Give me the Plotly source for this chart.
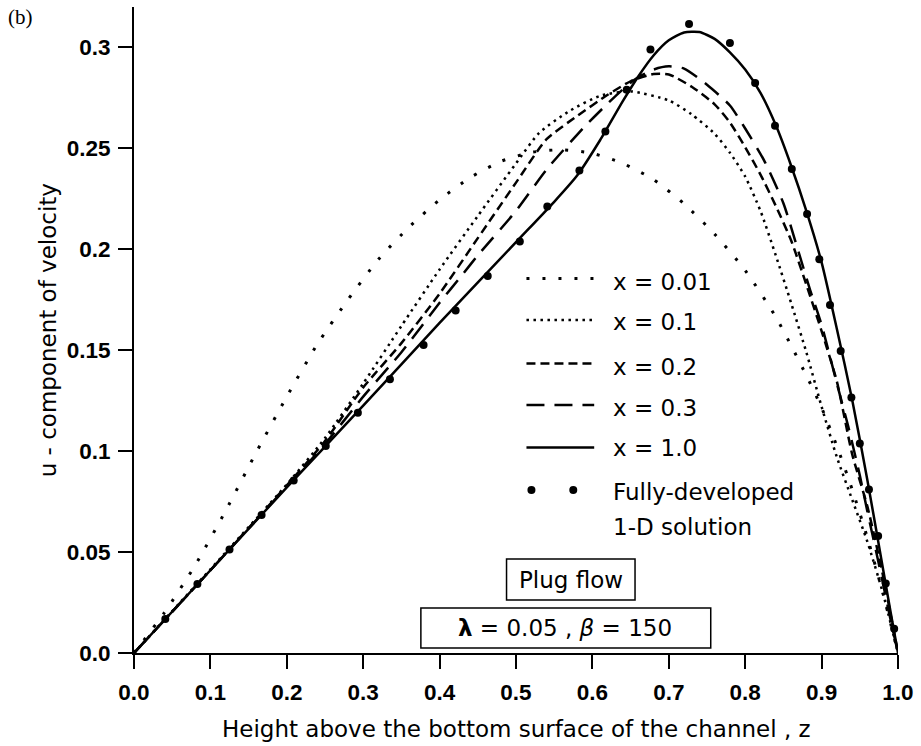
import plotly.graph_objects as go

# ---------------- data ----------------
x_tick_vals = [0.0, 0.1, 0.2, 0.3, 0.4, 0.5, 0.6, 0.7, 0.8, 0.9, 1.0]
x_tick_text = ["0.0", "0.1", "0.2", "0.3", "0.4", "0.5", "0.6", "0.7", "0.8", "0.9", "1.0"]
y_tick_vals = [0.0, 0.05, 0.1, 0.15, 0.2, 0.25, 0.3]
y_tick_text = ["0.0", "0.05", "0.1", "0.15", "0.2", "0.25", "0.3"]

series_names = ["x = 0.01", "x = 0.1", "x = 0.2", "x = 0.3", "x = 1.0"]

z_x001 = [0, 0.04, 0.08, 0.12, 0.16, 0.2, 0.24, 0.28, 0.32, 0.36, 0.40, 0.44, 0.48, 0.52,
          0.56, 0.60, 0.64, 0.68, 0.72, 0.76, 0.80, 0.84, 0.88, 0.90, 0.92, 0.94, 0.96, 0.98, 1.0]
u_x001 = [0, 0.0201, 0.0434, 0.0705, 0.0994, 0.127, 0.153, 0.175, 0.195, 0.211, 0.2245, 0.2355,
          0.2435, 0.248, 0.2493, 0.2475, 0.2425, 0.2345, 0.2225, 0.2075, 0.1895, 0.1665, 0.1375,
          0.1215, 0.1025, 0.081, 0.057, 0.030, 0]

z_x01 = [0, 0.1, 0.2, 0.25, 0.3, 0.35, 0.4, 0.45, 0.5, 0.53, 0.57, 0.61, 0.65, 0.70, 0.73, 0.76,
         0.78, 0.80, 0.82, 0.84, 0.86, 0.88, 0.90, 0.92, 0.94, 0.96, 0.98, 1.0]
u_x01 = [0, 0.0415, 0.0835, 0.1065, 0.1335, 0.162, 0.19, 0.2165, 0.2425, 0.2575, 0.2685, 0.2760,
         0.2782, 0.2737, 0.2668, 0.2572, 0.2478, 0.236, 0.219, 0.197, 0.1735, 0.149, 0.122,
         0.097, 0.076, 0.055, 0.030, 0]

z_x02 = [0, 0.1, 0.2, 0.25, 0.3, 0.35, 0.4, 0.45, 0.5, 0.54, 0.58, 0.62, 0.65, 0.68, 0.70, 0.73,
         0.76, 0.78, 0.80, 0.82, 0.84, 0.86, 0.88, 0.90, 0.92, 0.94, 0.96, 0.98, 1.0]
u_x02 = [0, 0.041, 0.083, 0.105, 0.1315, 0.1535, 0.178, 0.2055, 0.233, 0.2545, 0.266, 0.2765,
         0.2832, 0.2868, 0.2866, 0.2805, 0.2718, 0.2628, 0.2505, 0.237, 0.2215, 0.2045, 0.1825,
         0.1595, 0.1345, 0.0985, 0.0725, 0.039, 0]

z_x03 = [0, 0.1, 0.2, 0.25, 0.3, 0.35, 0.4, 0.43, 0.45, 0.5, 0.54, 0.59, 0.625, 0.655, 0.68,
         0.70, 0.72, 0.75, 0.78, 0.80, 0.825, 0.85, 0.87, 0.885, 0.90, 0.92, 0.935, 0.95, 0.96,
         0.975, 0.99, 1.0]
u_x03 = [0, 0.041, 0.0825, 0.1035, 0.127, 0.149, 0.1735, 0.1875, 0.197, 0.219, 0.2395, 0.2608,
         0.274, 0.284, 0.289, 0.2906, 0.2895, 0.2815, 0.2712, 0.2598, 0.2438, 0.2228, 0.1985,
         0.1798, 0.1625, 0.1335, 0.112, 0.088, 0.070, 0.044, 0.017, 0]

z_x10 = [0, 0.1, 0.2, 0.3, 0.4, 0.5, 0.55, 0.58, 0.61, 0.64, 0.66, 0.68, 0.70, 0.72, 0.74, 0.76,
         0.78, 0.80, 0.82, 0.84, 0.86, 0.88, 0.90, 0.92, 0.94, 0.96, 0.98, 0.99, 1.0]
u_x10 = [0, 0.041, 0.082, 0.1225, 0.1635, 0.2035, 0.2235, 0.2365, 0.254, 0.2735, 0.2856, 0.296,
         0.3035, 0.3074, 0.3076, 0.3042, 0.2975, 0.289, 0.2775, 0.2615, 0.2415, 0.219, 0.1935,
         0.1605, 0.1255, 0.0855, 0.0425, 0.021, 0]

fd_name = "Fully-developed"
fd_z = [0.041, 0.083, 0.125, 0.167, 0.209, 0.251, 0.293, 0.335, 0.379, 0.421, 0.463, 0.505,
        0.541, 0.583, 0.617, 0.645, 0.676, 0.7265, 0.780, 0.813, 0.839, 0.861, 0.881, 0.897,
        0.911, 0.925, 0.939, 0.950, 0.962, 0.974, 0.984, 0.995]
fd_u = [0.0168, 0.0342, 0.0513, 0.0683, 0.0855, 0.1025, 0.119, 0.1356, 0.1526, 0.1696, 0.1868,
        0.2038, 0.2212, 0.239, 0.2583, 0.279, 0.2989, 0.3116, 0.3022, 0.2823, 0.2612, 0.2397,
        0.2175, 0.1951, 0.1724, 0.1496, 0.1266, 0.1038, 0.081, 0.0579, 0.0344, 0.012]

# ---------------- layout helpers ----------------
W, H = 921, 746
ML, MR, MT, MB = 134, 20, 7, 93


def px(X):
    return (X - ML) / (W - ML - MR)


def py(Y):
    return (H - MB - Y) / (H - MT - MB)


TXT = dict(family="DejaVu Sans", size=23, color="black")
TICKF = dict(family="Liberation Sans", size=22.5, color="black", weight="bold")

line_styles = [
    dict(color="black", width=3, dash="3px,13px"),
    dict(color="black", width=2.5, dash="2.5px,4.5px"),
    dict(color="black", width=2.5, dash="9px,5px"),
    dict(color="black", width=2.5, dash="18px,10px"),
    dict(color="black", width=2.5),
]
curves = [(z_x001, u_x001), (z_x01, u_x01), (z_x02, u_x02), (z_x03, u_x03), (z_x10, u_x10)]

fig = go.Figure()
for name, (zz, uu), ls in zip(series_names, curves, line_styles):
    fig.add_trace(go.Scatter(x=zz, y=uu, mode="lines", name=name, line=dict(shape="spline", smoothing=0.6, **ls),
                             cliponaxis=False, showlegend=False))
fig.add_trace(go.Scatter(x=fd_z, y=fd_u, mode="markers", name=fd_name,
                         marker=dict(color="black", size=8), showlegend=False, cliponaxis=False))

shapes = []
annotations = []

# manual legend
leg_line_Y = [278.5, 320, 363.5, 405, 447.5]
leg_text_Y = [281.7, 321.7, 366.7, 408, 448]
for ls, yl, yt, name in zip(line_styles, leg_line_Y, leg_text_Y, series_names):
    shapes.append(dict(type="line", xref="paper", yref="paper", x0=px(528), x1=px(596),
                       y0=py(yl), y1=py(yl), line=ls))
    annotations.append(dict(xref="paper", yref="paper", x=px(613), y=py(yt), text=name,
                            xanchor="left", yanchor="middle", showarrow=False, font=TXT))
for Xd in (533, 575):
    shapes.append(dict(type="circle", xref="paper", yref="paper", xsizemode="pixel", ysizemode="pixel",
                       xanchor=px(Xd), yanchor=py(490), x0=-4, x1=4, y0=-4, y1=4,
                       fillcolor="black", line=dict(width=0)))
annotations.append(dict(xref="paper", yref="paper", x=px(613), y=py(491.7), text="Fully-developed",
                        xanchor="left", yanchor="middle", showarrow=False, font=TXT))
annotations.append(dict(xref="paper", yref="paper", x=px(613), y=py(526.7), text="1-D solution",
                        xanchor="left", yanchor="middle", showarrow=False, font=TXT))

# boxes
shapes.append(dict(type="rect", xref="paper", yref="paper", x0=px(508), x1=px(637), y0=py(600), y1=py(559),
                   line=dict(color="black", width=1.5)))
annotations.append(dict(xref="paper", yref="paper", x=px(572.5), y=py(580), text="Plug flow",
                        xanchor="center", yanchor="middle", showarrow=False, font=TXT))
shapes.append(dict(type="rect", xref="paper", yref="paper", x0=px(422), x1=px(713), y0=py(648), y1=py(608),
                   line=dict(color="black", width=1.5)))
annotations.append(dict(xref="paper", yref="paper", x=px(567), y=py(628),
                        text="<b>λ</b> = 0.05 , <i>β</i> = 150",
                        xanchor="center", yanchor="middle", showarrow=False, font=TXT))

# axis titles and panel label
annotations.append(dict(xref="paper", yref="paper", x=px(517.5), y=py(729),
                        text="Height above the bottom surface of the channel , z",
                        xanchor="center", yanchor="middle", showarrow=False, font=TXT))
annotations.append(dict(xref="paper", yref="paper", x=px(48), y=py(330), text="u - component of velocity",
                        textangle=-90, xanchor="center", yanchor="middle", showarrow=False, font=TXT))
annotations.append(dict(xref="paper", yref="paper", x=px(20), y=py(17), text="(b)",
                        xanchor="center", yanchor="middle", showarrow=False,
                        font=dict(family="Liberation Serif", size=21, color="black")))

axis_common = dict(showline=True, linecolor="black", linewidth=2, ticks="outside", ticklen=14,
                   tickwidth=2, tickcolor="black", showgrid=False, zeroline=False, tickfont=TICKF)

fig.update_layout(
    width=W, height=H,
    margin=dict(l=ML, r=MR, t=MT, b=MB, pad=0),
    paper_bgcolor="white", plot_bgcolor="white",
    xaxis=dict(range=[0, 1], tickvals=x_tick_vals, ticktext=x_tick_text, ticklabelstandoff=4, **axis_common),
    yaxis=dict(range=[0, 0.32], tickvals=y_tick_vals, ticktext=y_tick_text, ticklabelstandoff=3, **axis_common),
    shapes=shapes, annotations=annotations, showlegend=False,
)

fig.write_html("out.html")
